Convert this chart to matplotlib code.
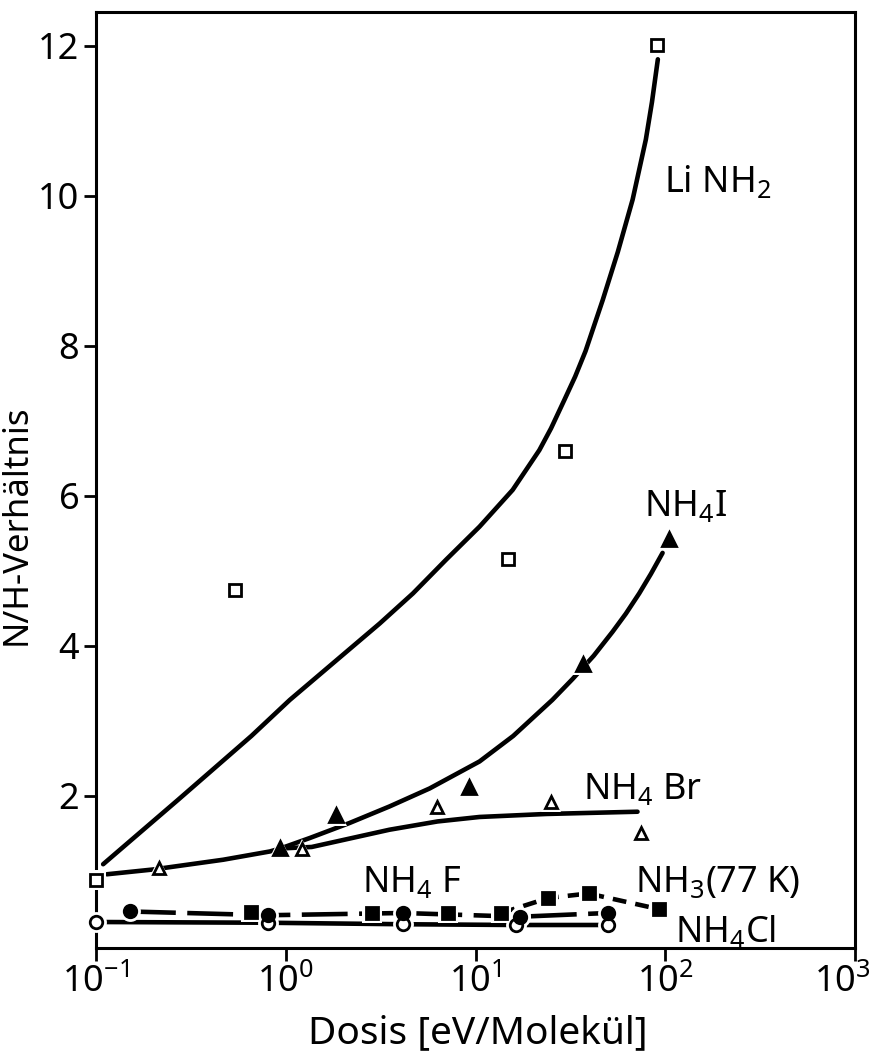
import matplotlib
matplotlib.use('Agg')
import matplotlib.pyplot as plt
from matplotlib.transforms import ScaledTranslation

# measured points
linh2_x = [0.1, 0.543, 14.9, 29.7, 90.8]
linh2_y = [0.88, 4.75, 5.16, 6.6, 12.01]
nh4i_x = [0.937, 1.83, 9.29, 37.0, 105.0]
nh4i_y = [1.30, 1.75, 2.12, 3.76, 5.42]
nh4br_x = [0.215, 1.22, 6.25, 25.0, 74.5]
nh4br_y = [1.04, 1.29, 1.85, 1.92, 1.51]
nh4cl_x = [0.1, 0.807, 4.14, 16.4, 49.7]
nh4cl_y = [0.32, 0.31, 0.29, 0.28, 0.28]
nh4f_x = [0.151, 0.807, 4.14, 17.1, 49.7]
nh4f_y = [0.46, 0.41, 0.44, 0.39, 0.44]
nh3_x = [0.654, 2.86, 7.15, 13.7, 24.2, 39.4, 93.0]
nh3_y = [0.45, 0.44, 0.44, 0.44, 0.64, 0.70, 0.49]

# hand drawn fit curves
linh2_cx = [0.109, 0.271, 0.659, 1.05, 3.13, 4.68, 7.0, 10.5, 15.7, 21.7, 25.0, 29.4,
            33.5, 38.0, 46.8, 56.2, 67.3, 79.0, 85.1, 91.4]
linh2_cy = [1.09, 1.95, 2.80, 3.28, 4.30, 4.70, 5.15, 5.59, 6.08, 6.61, 6.90, 7.28,
            7.59, 7.93, 8.61, 9.25, 9.95, 10.75, 11.25, 11.82]
common_cx = [0.114, 0.2, 0.468, 0.824, 0.937]
common_cy = [0.956, 1.02, 1.15, 1.26, 1.30]
nh4i_cx = [0.937, 1.34, 2.17, 3.52, 5.73, 10.5, 15.8, 25.4, 32.5, 42.0, 52.8, 62.0,
           72.9, 84.0, 96.8]
nh4i_cy = [1.30, 1.44, 1.64, 1.86, 2.10, 2.46, 2.80, 3.28, 3.56, 3.87, 4.19, 4.43,
           4.70, 4.96, 5.24]
nh4br_cx = [0.937, 1.37, 3.52, 6.3, 10.5, 23.6, 71.4]
nh4br_cy = [1.30, 1.32, 1.55, 1.66, 1.72, 1.76, 1.79]

plt.rcParams['font.family'] = ['Noto Sans', 'DejaVu Sans']
plt.rcParams['font.stretch'] = 'condensed'
plt.rcParams['mathtext.fontset'] = 'custom'
plt.rcParams['mathtext.rm'] = 'Noto Sans:stretch=condensed'
plt.rcParams['mathtext.it'] = 'Noto Sans:stretch=condensed'

fig = plt.figure(figsize=(8.81, 10.55), dpi=100)
ax = fig.add_axes([0.109, 0.1014, 0.8615, 0.8872])

lw = 3.3
for cx, cy in [(linh2_cx, linh2_cy), (common_cx, common_cy),
               (nh4i_cx, nh4i_cy), (nh4br_cx, nh4br_cy)]:
    ax.plot(cx, cy, color='black', lw=lw, solid_capstyle='round', solid_joinstyle='round')
ax.plot(nh4cl_x, nh4cl_y, color='black', lw=lw)
ax.plot(nh4f_x, nh4f_y, color='black', lw=lw, dashes=[10, 2.5])
ax.plot(nh3_x[3:], nh3_y[3:], color='black', lw=lw, dashes=[3, 2])


def marks(x, y, marker, filled, size=9):
    # white halo breaks the lines around each symbol
    ax.plot(x, y, ls='none', marker=marker, ms=size + 6, mfc='white', mec='white',
            mew=0, zorder=3, clip_on=False)
    ax.plot(x, y, ls='none', marker=marker, ms=size, mfc='black' if filled else 'white',
            mec='black', mew=2, zorder=4, clip_on=False)


marks(linh2_x, linh2_y, 's', False, 8)
marks(nh4br_x, nh4br_y, '^', False, 9)
marks(nh4i_x, nh4i_y, '^', True, 10)
marks(nh4cl_x, nh4cl_y, 'o', False, 9)
marks(nh3_x, nh3_y, 's', True, 9)
marks(nh4f_x, nh4f_y, 'o', True, 9)

fs = 26
ax.text(98, 10.05, r'Li NH$_2$', fontsize=fs)
ax.text(77.5, 5.73, r'NH$_4$I', fontsize=fs)
ax.text(37.0, 1.96, r'NH$_4$ Br', fontsize=fs)
ax.text(2.51, 0.72, r'NH$_4$ F', fontsize=fs)
ax.text(69.5, 0.72, r'NH$_3$(77 K)', fontsize=fs)
ax.text(113, 0.057, r'NH$_4$Cl', fontsize=fs)

ax.set_xscale('log')
ax.set_xlim(0.1, 1000)
ax.set_ylim(-0.027, 12.45)
ax.set_xticks([0.1, 1, 10, 100, 1000])
ax.set_yticks([2, 4, 6, 8, 10, 12])
ax.minorticks_off()
ax.tick_params(direction='out', length=9, width=2, labelsize=26, pad=3)
for s in ax.spines.values():
    s.set_linewidth(2.2)

# keep the last decade label inside the figure
last = ax.get_xticklabels()[-1]
last.set_transform(last.get_transform() + ScaledTranslation(-9 / 72, 0, fig.dpi_scale_trans))

ax.set_xlabel('Dosis [eV/Molekül]', fontsize=28)
ax.set_ylabel('N/H-Verhältnis', fontsize=25)
ax.xaxis.set_label_coords(0.503, -0.071)
ax.yaxis.set_label_coords(-0.082, 0.452)

fig.savefig('out.png', dpi=100)
